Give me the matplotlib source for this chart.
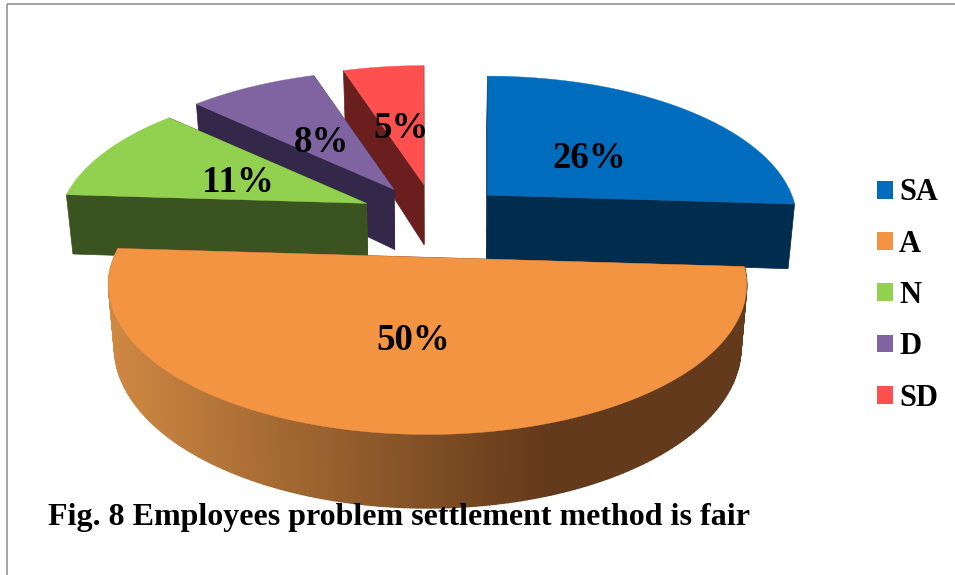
import numpy as np
import matplotlib
matplotlib.use("Agg")
import matplotlib.pyplot as plt
from matplotlib.patches import Patch, Rectangle
from matplotlib.colors import to_rgb

# ---- data ----
categories = ["SA", "A", "N", "D", "SD"]
values = [26, 50, 11, 8, 5]
title_text = "Fig. 8 Employees problem settlement method is fair"

# ---- style ----
top_colors = ["#006cbd", "#f39443", "#92d050", "#8064a2", "#ff5050"]
side_colors = ["#002c4e", "#633a1b", "#3b5320", "#33274a", "#6a1e1e"]
rim_light = "#cf8842"
rim_dark = "#633a1b"
rim_scale = [0.97, 1.0, 0.97, 0.97, 0.97]
apex_nudge = [(-3, -1), (0, -3), (7, -3), (3, -1), (3, -1)]
slice_depth = [64, 60, 60, 60, 60]
label_xy = [(589, 158), (413, 341), (238, 183), (321, 143), (401, 129)]
draw_order = [4, 3, 2, 0, 1]

# ---- projection of the pie plane ----
CX, CY = 433.0, 221.0
R, S, K = 313.6, 144.5, 0.184
EXPLODE = 0.26
SHRINK = 0.982

plt.rcParams["font.family"] = ["Liberation Serif", "DejaVu Serif"]
plt.rcParams["font.weight"] = "bold"

fig = plt.figure(figsize=(9.55, 5.75), dpi=100)
ax = fig.add_axes([0, 0, 1, 1])
ax.set_xlim(0, 955)
ax.set_ylim(575, 0)
ax.axis("off")


def plane(theta, r):
    x = r * np.cos(theta)
    yf = -r * np.sin(theta)
    w = 1 - K * yf
    return R * x / w, S * yf / w, w


def rim(apex, theta, scale, depth):
    dx, dy, w = plane(theta, scale)
    top = np.column_stack([apex[0] + dx, apex[1] + dy])
    d = depth / w
    bx = CX + (top[:, 0] - CX) * SHRINK
    bottom = np.column_stack([bx, top[:, 1] + d])
    return top, bottom


total = sum(values)
edges = 90 - 360 * np.concatenate([[0], np.cumsum(values)]) / total

for i in draw_order:
    t0, t1 = np.radians(edges[i]), np.radians(edges[i + 1])
    mid = 0.5 * (t0 + t1)
    mx, my, _ = plane(np.array([mid]), EXPLODE)
    apex = (CX + mx[0] + apex_nudge[i][0], CY + my[0] + apex_nudge[i][1])
    apex_arr = np.array([apex])
    apex_bottom = np.array([[CX + (apex[0] - CX) * SHRINK, apex[1] + slice_depth[i]]])

    thetas = np.linspace(t0, t1, 181)
    top, bottom = rim(apex, thetas, rim_scale[i], slice_depth[i])
    z = 10 + draw_order.index(i) * 10

    # flat cut faces
    for k_end in (0, -1):
        quad = np.vstack([apex_arr, top[[k_end]], bottom[[k_end]], apex_bottom])
        ax.fill(quad[:, 0], quad[:, 1], color=side_colors[i], lw=0.5, zorder=z)

    # curved outer wall, only the slice that faces the viewer has a shaded wall
    if values[i] == max(values):
        lo, hi = top[:, 0].min(), top[:, 0].max()
        c_light, c_dark = np.array(to_rgb(rim_light)), np.array(to_rgb(rim_dark))
        dark_at = lo + 0.69 * (hi - lo)
        for a in range(len(thetas) - 1):
            quad = np.vstack([top[a], top[a + 1], bottom[a + 1], bottom[a]])
            f = min(1.0, max(0.0, (top[a, 0] - lo) / (dark_at - lo)))
            col = c_light + (c_dark - c_light) * f
            ax.fill(quad[:, 0], quad[:, 1], color=col, lw=1.0, zorder=z + 1)

    poly = np.vstack([apex_arr, top])
    ax.fill(poly[:, 0], poly[:, 1], color=top_colors[i], lw=0.3, zorder=z + 2)

for v, (x, y) in zip(values, label_xy):
    ax.text(x, y, f"{v}%", fontsize=26.6, fontweight="bold", color="black",
            ha="center", va="center", zorder=100)

handles = [Patch(facecolor=c, edgecolor="none") for c in top_colors]
ax.legend(handles, categories, loc="upper left", bbox_to_anchor=(877, 178.5),
          bbox_transform=ax.transData, frameon=False, fontsize=22,
          handlelength=0.52, handleheight=0.52, handletextpad=0.2,
          labelspacing=0.73, borderpad=0, borderaxespad=0)

ax.text(48, 525, title_text, fontsize=23, fontweight="bold", color="black",
        ha="left", va="baseline", zorder=101)

ax.add_patch(Rectangle((6.5, 3.5), 1100, 700, fill=False, edgecolor="#8c8c8c",
                       lw=1.1, zorder=200))

fig.savefig("out.png", dpi=100)
